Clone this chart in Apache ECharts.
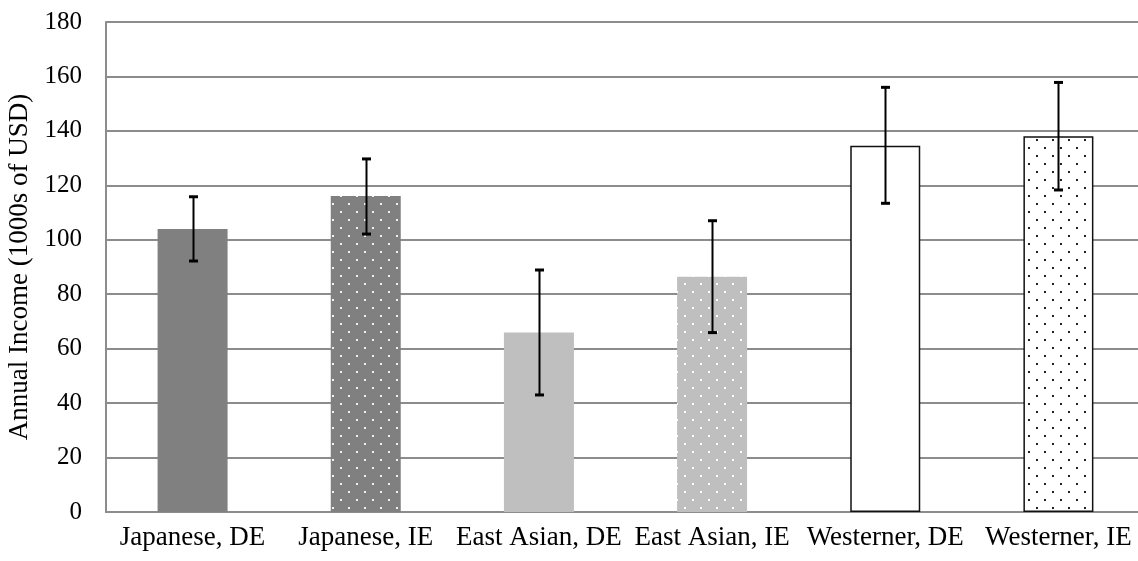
<!DOCTYPE html>
<html>
<head>
<meta charset="utf-8">
<script src="https://cdn.jsdelivr.net/npm/echarts@6/dist/echarts.min.js"></script>
<style>html,body{margin:0;padding:0;background:#fff;}#c{width:1138px;height:561px;}</style>
</head>
<body>
<div id="c"></div>
<script>
var categories = ['Japanese, DE', 'Japanese, IE', 'East Asian, DE', 'East Asian, IE', 'Westerner, DE', 'Westerner, IE'];
var means = [104.0, 116.1, 65.9, 86.4, 134.5, 138.0];
var errLow = [92.2, 102.1, 43.0, 65.9, 113.4, 118.3];
var errHigh = [115.8, 129.7, 88.9, 107.0, 156.0, 157.8];
var yTicks = { min: 0, max: 180, interval: 20 };

function dotPattern(bg, dot, size) {
  var c = document.createElement('canvas');
  c.width = 16; c.height = 16;
  var g = c.getContext('2d');
  g.fillStyle = bg; g.fillRect(0, 0, 16, 16);
  g.fillStyle = dot;
  g.fillRect(12, 11, size, size);
  g.fillRect(4, 3, size, size);
  return { image: c, repeat: 'repeat' };
}

var styles = [
  { color: '#808080' },
  { color: dotPattern('#808080', '#f0f0f0', 2) },
  { color: '#bfbfbf' },
  { color: dotPattern('#bfbfbf', '#ffffff', 2) },
  { color: '#ffffff', borderColor: '#111', borderWidth: 1.5 },
  { color: dotPattern('#ffffff', '#222', 2), borderColor: '#111', borderWidth: 1.5 }
];

var barData = means.map(function (v, i) { return { value: v, itemStyle: styles[i] }; });
var errData = categories.map(function (c, i) { return [i, errLow[i], errHigh[i]]; });

var font = 'Liberation Serif, Times New Roman, serif';
var chart = echarts.init(document.getElementById('c'), null, { renderer: 'canvas' });
chart.setOption({
  animation: false,
  grid: { left: 106, right: -7, top: 22, bottom: 49, containLabel: false, outerBoundsMode: 'none' },
  xAxis: {
    type: 'category',
    data: categories,
    axisLine: { show: true, lineStyle: { color: '#8c8c8c', width: 2 } },
    axisTick: { show: false },
    axisLabel: { fontFamily: font, fontSize: 27, color: '#000', margin: 12, interval: 0 }
  },
  yAxis: {
    type: 'value',
    min: yTicks.min, max: yTicks.max, interval: yTicks.interval,
    name: 'Annual Income (1000s of USD)',
    nameLocation: 'middle',
    nameGap: 70,
    nameTextStyle: { fontFamily: font, fontSize: 27, color: '#000' },
    axisLine: { show: true, lineStyle: { color: '#8c8c8c', width: 2 } },
    axisTick: { show: false },
    splitLine: { lineStyle: { color: '#8c8c8c', width: 2 } },
    axisLabel: { fontFamily: font, fontSize: 25, color: '#000', margin: 24 }
  },
  series: [
    {
      type: 'bar',
      data: barData,
      barWidth: 70
    },
    {
      type: 'custom',
      z: 10,
      data: errData,
      renderItem: function (params, api) {
        var x = api.value(0);
        var lo = api.coord([x, api.value(1)]);
        var hi = api.coord([x, api.value(2)]);
        var cx = Math.round(lo[0]) + 0.5;
        var cap = 4.5;
        var st = { stroke: '#000', lineWidth: 2 };
        var capSt = { stroke: '#000', lineWidth: 3 };
        return {
          type: 'group',
          children: [
            { type: 'line', shape: { x1: cx, y1: hi[1], x2: cx, y2: lo[1] }, style: st },
            { type: 'line', shape: { x1: cx - cap, y1: hi[1], x2: cx + cap, y2: hi[1] }, style: capSt },
            { type: 'line', shape: { x1: cx - cap, y1: lo[1], x2: cx + cap, y2: lo[1] }, style: capSt }
          ]
        };
      }
    }
  ]
});
</script>
</body>
</html>
